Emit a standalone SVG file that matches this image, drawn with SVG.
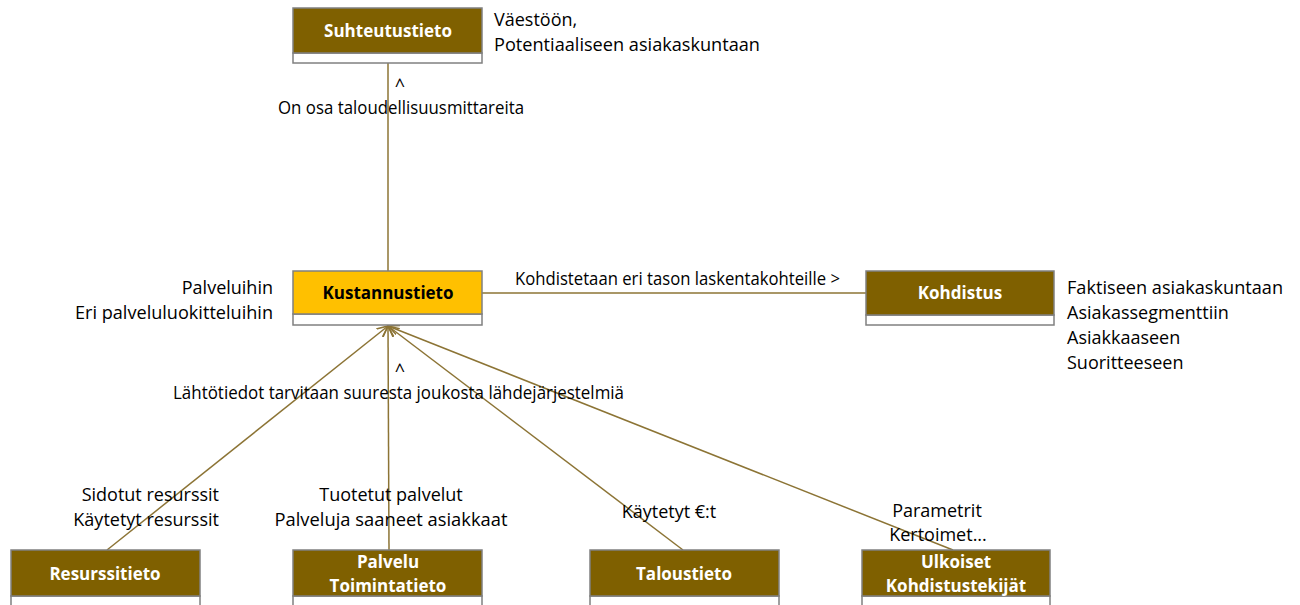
<svg xmlns="http://www.w3.org/2000/svg" width="1300" height="605" viewBox="0 0 1300 605">
<style>
.hdr{fill:#7F6000;stroke:#808080;stroke-width:1.5}
.hdrY{fill:#FFC000;stroke:#808080;stroke-width:1.5}
.body{fill:#FFFFFF;stroke:#808080;stroke-width:1.5}
.nt{font-family:"Open Sans","Liberation Sans",sans-serif;font-weight:bold;font-size:17px;fill:#FFFFFF;text-anchor:middle}
.ntk{fill:#000000}
.lb{font-family:"Open Sans","Liberation Sans",sans-serif;font-size:18px;fill:#000000}
.con{stroke:#8C7435;stroke-width:1.5;fill:none}
</style>
<defs>
<marker id="arr" viewBox="0 0 12 12" refX="11" refY="6" markerWidth="12" markerHeight="12" markerUnits="userSpaceOnUse" orient="auto">
<path d="M0,1 L11,6 L0,11" fill="none" stroke="#8C7435" stroke-width="1.5"/>
</marker>
</defs>
<rect width="1300" height="605" fill="#FFFFFF"/>
<g id="connectors">
<line class="con" x1="388" y1="62" x2="388" y2="271"/>
<line class="con" x1="482" y1="293" x2="866" y2="293"/>
<line class="con" x1="107" y1="550" x2="388" y2="326" marker-end="url(#arr)"/>
<line class="con" x1="389" y1="550" x2="388" y2="326" marker-end="url(#arr)"/>
<line class="con" x1="683" y1="550" x2="388" y2="326" marker-end="url(#arr)"/>
<line class="con" x1="953" y1="550" x2="388" y2="326" marker-end="url(#arr)"/>
</g>
<g id="labels">
<text class="lb" x="494" y="26">Väestöön,</text>
<text class="lb" x="494" y="51" textLength="266" lengthAdjust="spacingAndGlyphs">Potentiaaliseen asiakaskuntaan</text>
<text class="lb" x="400" y="92" text-anchor="middle">^</text>
<text class="lb" x="401" y="114" text-anchor="middle" textLength="246" lengthAdjust="spacingAndGlyphs">On osa taloudellisuusmittareita</text>
<text class="lb" x="273" y="294" text-anchor="end">Palveluihin</text>
<text class="lb" x="273" y="319" text-anchor="end" textLength="198" lengthAdjust="spacingAndGlyphs">Eri palveluluokitteluihin</text>
<text class="lb" x="515" y="285" textLength="325" lengthAdjust="spacingAndGlyphs">Kohdistetaan eri tason laskentakohteille &gt;</text>
<text class="lb" x="1067" y="294" textLength="216" lengthAdjust="spacingAndGlyphs">Faktiseen asiakaskuntaan</text>
<text class="lb" x="1067" y="319">Asiakassegmenttiin</text>
<text class="lb" x="1067" y="344">Asiakkaaseen</text>
<text class="lb" x="1067" y="369">Suoritteeseen</text>
<text class="lb" x="400" y="377" text-anchor="middle">^</text>
<text class="lb" x="173" y="399" textLength="451" lengthAdjust="spacingAndGlyphs">Lähtötiedot tarvitaan suuresta joukosta lähdejärjestelmiä</text>
<text class="lb" x="219" y="501" text-anchor="end">Sidotut resurssit</text>
<text class="lb" x="219" y="526" text-anchor="end">Käytetyt resurssit</text>
<text class="lb" x="391" y="501" text-anchor="middle">Tuotetut palvelut</text>
<text class="lb" x="391" y="526" text-anchor="middle" textLength="233" lengthAdjust="spacingAndGlyphs">Palveluja saaneet asiakkaat</text>
<text class="lb" x="669" y="518" text-anchor="middle">Käytetyt €:t</text>
<text class="lb" x="937" y="517" text-anchor="middle">Parametrit</text>
<text class="lb" x="938" y="541" text-anchor="middle">Kertoimet...</text>
</g>
<g id="suhteutustieto">
<rect class="body" x="293" y="53" width="189" height="10"/>
<rect class="hdr" x="293" y="8" width="189" height="45"/>
<text class="nt" x="388" y="37">Suhteutustieto</text>
</g>
<g id="kustannustieto">
<rect class="body" x="293" y="314" width="189" height="11"/>
<rect class="hdrY" x="293" y="271" width="189" height="43"/>
<text class="nt ntk" x="388" y="299">Kustannustieto</text>
</g>
<g id="kohdistus">
<rect class="body" x="866" y="315" width="188" height="10"/>
<rect class="hdr" x="866" y="271" width="188" height="44"/>
<text class="nt" x="960" y="299">Kohdistus</text>
</g>
<g id="resurssitieto">
<rect class="body" x="11" y="596" width="189" height="15"/>
<rect class="hdr" x="11" y="550" width="189" height="46"/>
<text class="nt" x="105" y="580">Resurssitieto</text>
</g>
<g id="palvelu">
<rect class="body" x="293" y="596" width="189" height="15"/>
<rect class="hdr" x="293" y="550" width="189" height="46"/>
<text class="nt" x="388" y="568">Palvelu</text>
<text class="nt" x="388" y="592">Toimintatieto</text>
</g>
<g id="taloustieto">
<rect class="body" x="590" y="596" width="189" height="15"/>
<rect class="hdr" x="590" y="550" width="189" height="46"/>
<text class="nt" x="684" y="580">Taloustieto</text>
</g>
<g id="ulkoiset">
<rect class="body" x="862" y="596" width="188" height="15"/>
<rect class="hdr" x="862" y="550" width="188" height="46"/>
<text class="nt" x="956" y="568">Ulkoiset</text>
<text class="nt" x="956" y="592">Kohdistustekijät</text>
</g>
</svg>
